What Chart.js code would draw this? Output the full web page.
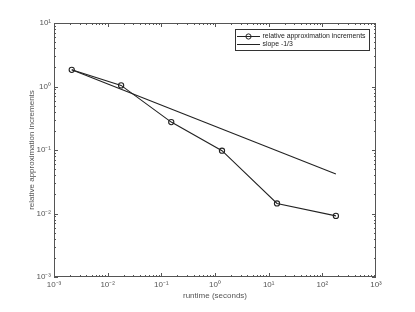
<!DOCTYPE html>
<html>
<head>
<meta charset="utf-8">
<script src="https://cdn.jsdelivr.net/npm/chart.js@4/dist/chart.umd.min.js"></script>
<style>
  body { margin: 0; background: #fff; }
</style>
</head>
<body>
<canvas id="logChart" width="415" height="312"></canvas>
<script>
// valores
const runtime = [0.00214, 0.0178, 0.153, 1.35, 14.3, 179];
const increments = [1.83, 1.04, 0.275, 0.0975, 0.0144, 0.00917];
const slopeX = [0.00214, 179];
const slopeY = [1.83, 0.0418];
const decadesX = [1e-3, 1e-2, 1e-1, 1, 10, 100, 1000];
const decadesY = [1e-3, 1e-2, 1e-1, 1, 10];
const seriesLabels = ["relative approximation increments", "slope -1/3"];
const axisTitles = { x: "runtime (seconds)", y: "relative approximation increments" };

const FONT = "Liberation Sans, Arial, sans-serif";
const TEXT = "#555";
const AXIS = "#555";

const sup = { "-": "\u207B", "0": "\u2070", "1": "\u00B9", "2": "\u00B2", "3": "\u00B3" };
function powLabel(v) {
  const e = Math.round(Math.log10(v));
  return "10" + String(e).split("").map(c => sup[c]).join("");
}

// marco, ticks hacia dentro y leyenda
const matlabAxes = {
  id: "matlabAxes",
  afterDraw(chart) {
    const { ctx, chartArea: a, scales } = chart;
    const sx = scales.x, sy = scales.y;
    ctx.save();
    ctx.strokeStyle = AXIS;
    ctx.lineWidth = 1;
    ctx.strokeRect(a.left + 0.5, a.top + 0.5, a.right - a.left - 1, a.bottom - a.top - 1);

    ctx.beginPath();
    for (let d = -3; d < 3; d++) {
      for (let m = 1; m <= 9; m++) {
        const x = Math.round(sx.getPixelForValue(m * Math.pow(10, d))) + 0.5;
        const len = m === 1 ? 4 : 2;
        ctx.moveTo(x, a.bottom); ctx.lineTo(x, a.bottom - len);
        ctx.moveTo(x, a.top); ctx.lineTo(x, a.top + len);
      }
    }
    for (let d = -3; d < 1; d++) {
      for (let m = 1; m <= 9; m++) {
        const y = Math.round(sy.getPixelForValue(m * Math.pow(10, d))) + 0.5;
        const len = m === 1 ? 4 : 2;
        ctx.moveTo(a.left, y); ctx.lineTo(a.left + len, y);
        ctx.moveTo(a.right, y); ctx.lineTo(a.right - len, y);
      }
    }
    ctx.stroke();

    // leyenda
    const bx = 235.5, by = 29.5, bw = 134, bh = 21;
    ctx.fillStyle = "#fff";
    ctx.fillRect(bx, by, bw, bh);
    ctx.strokeStyle = "#333";
    ctx.strokeRect(bx, by, bw, bh);
    ctx.font = "6.9px " + FONT;
    ctx.textBaseline = "middle";
    ctx.fillStyle = "#222";
    const rows = [36.5, 44.5];
    chart.data.datasets.forEach((ds, i) => {
      const y = rows[i];
      ctx.strokeStyle = "#222";
      ctx.beginPath();
      ctx.moveTo(237, y); ctx.lineTo(260, y);
      ctx.stroke();
      if (ds.pointRadius > 0) {
        ctx.beginPath();
        ctx.arc(248.5, y, 2.6, 0, Math.PI * 2);
        ctx.stroke();
      }
      ctx.fillText(ds.label, 262.5, y);
    });
    ctx.restore();
  }
};

const ctx = document.getElementById("logChart").getContext("2d");
const logChart = new Chart(ctx, {
  type: "line",
  data: {
    datasets: [
      {
        label: seriesLabels[0],
        data: runtime.map((x, i) => ({ x: x, y: increments[i] })),
        borderColor: "#222",
        borderWidth: 1.1,
        pointRadius: 2.6,
        pointBorderWidth: 1.1,
        pointBackgroundColor: "rgba(0,0,0,0)",
        pointBorderColor: "#222",
        tension: 0
      },
      {
        label: seriesLabels[1],
        data: slopeX.map((x, i) => ({ x: x, y: slopeY[i] })),
        borderColor: "#222",
        borderWidth: 1.1,
        pointRadius: 0,
        tension: 0
      }
    ]
  },
  options: {
    responsive: false,
    animation: false,
    events: [],
    layout: { padding: { left: 0, right: 39, top: 23, bottom: 0 } },
    plugins: { legend: { display: false }, tooltip: { enabled: false } },
    scales: {
      x: {
        type: "logarithmic",
        min: 1e-3,
        max: 1e3,
        afterBuildTicks: s => { s.ticks = decadesX.map(v => ({ value: v })); },
        afterFit: s => { s.height = 35; },
        grid: { display: false, drawTicks: false },
        border: { display: false },
        ticks: {
          autoSkip: false,
          maxRotation: 0,
          padding: 3,
          color: TEXT,
          font: { family: FONT, size: 8 },
          callback: v => powLabel(v)
        },
        title: {
          display: true,
          text: axisTitles.x,
          color: TEXT,
          font: { family: FONT, size: 8 },
          padding: { top: 0, bottom: 11 }
        }
      },
      y: {
        type: "logarithmic",
        min: 1e-3,
        max: 10,
        afterBuildTicks: s => { s.ticks = decadesY.map(v => ({ value: v })); },
        afterFit: s => { s.width = 54; },
        grid: { display: false, drawTicks: false },
        border: { display: false },
        ticks: {
          autoSkip: false,
          padding: 3,
          color: TEXT,
          font: { family: FONT, size: 8 },
          callback: v => powLabel(v)
        },
        title: {
          display: true,
          text: axisTitles.y,
          color: TEXT,
          font: { family: FONT, size: 8 },
          padding: { top: 27, bottom: 0 }
        }
      }
    }
  },
  plugins: [matlabAxes]
});
</script>
</body>
</html>
